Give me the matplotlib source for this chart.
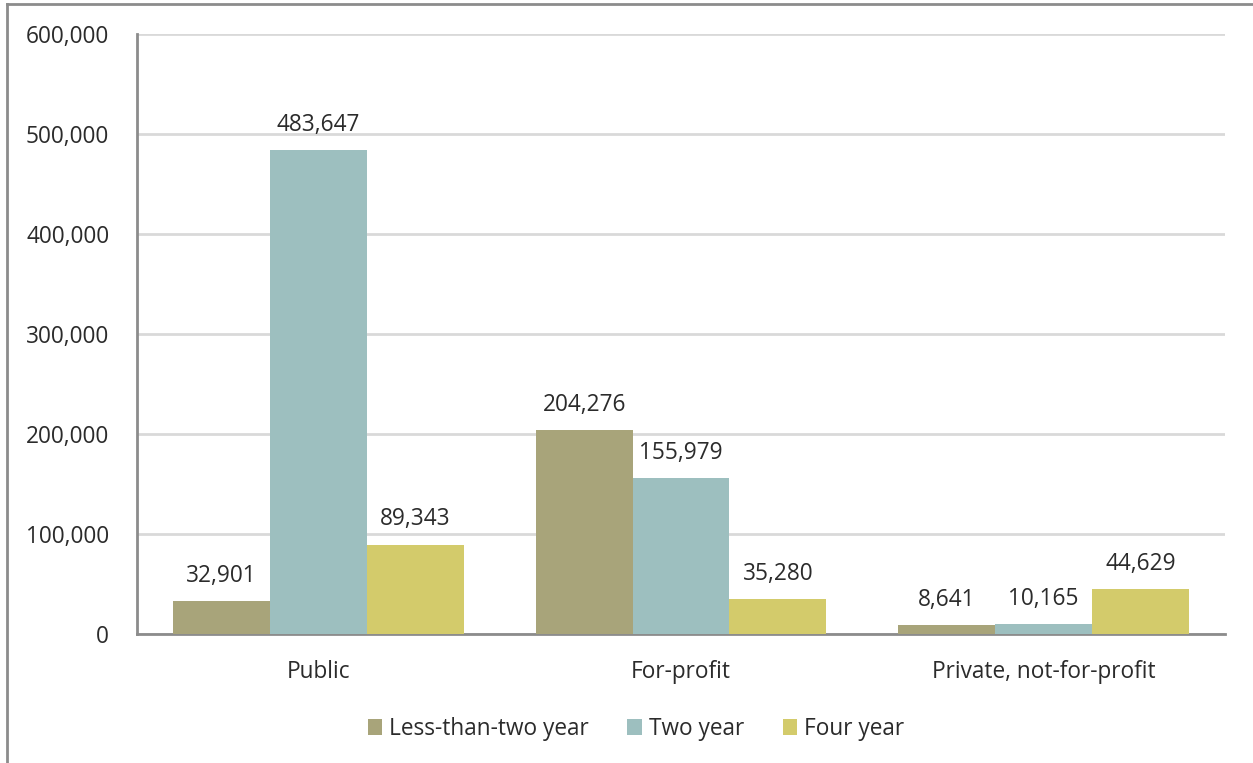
import matplotlib
matplotlib.use("Agg")
import matplotlib.pyplot as plt
from matplotlib.lines import Line2D
import numpy as np

categories = ["Public", "For-profit", "Private, not-for-profit"]
series_names = ["Less-than-two year", "Two year", "Four year"]
less_than_two = [32901, 204276, 8641]
two_year = [483647, 155979, 10165]
four_year = [89343, 35280, 44629]
colors = ["#A8A47A", "#9DBFBF", "#D3CB6B"]
yticks = [0, 100000, 200000, 300000, 400000, 500000, 600000]

plt.rcParams['font.family'] = ['Open Sans', 'DejaVu Sans']
FS = 16.3
TC = "#2B2B2B"

fig = plt.figure(figsize=(12.53, 7.63), dpi=100)
ax = fig.add_axes([137/1253, 1-634/763, 1088/1253, 600/763])

x = np.arange(len(categories))
w = 0.267
values = [less_than_two, two_year, four_year]
for i, (name, vals, c) in enumerate(zip(series_names, values, colors)):
    bars = ax.bar(x + (i-1)*w, vals, w, color=c, label=name, zorder=3)
    for b, v in zip(bars, vals):
        ax.annotate(f"{v:,}", (b.get_x()+b.get_width()/2, v), xytext=(0, 9.5),
                    textcoords="offset points", ha="center", va="bottom",
                    fontsize=FS, color=TC)

ax.set_xlim(-0.5, 2.5)
ax.set_ylim(0, 600000)
ax.set_yticks(yticks)
ax.set_yticklabels([f"{v:,}" for v in yticks], fontsize=FS, color=TC)
ax.set_xticks(x)
ax.set_xticklabels(categories, fontsize=FS, color=TC)
ax.tick_params(axis='x', length=0, pad=19)
ax.tick_params(axis='y', length=0, pad=20)
ax.grid(axis='y', color="#D9D9D9", linewidth=2, zorder=0)
for s in ["top", "right"]:
    ax.spines[s].set_visible(False)
for s in ["left", "bottom"]:
    ax.spines[s].set_color("#8C8C8C")
    ax.spines[s].set_linewidth(2)

ax.legend(loc="center", bbox_to_anchor=(636/1253, 1-729/763), bbox_transform=fig.transFigure,
          ncol=3, frameon=False, fontsize=FS, handlelength=0.65, handleheight=0.65,
          handletextpad=0.3, columnspacing=1.7, labelcolor=TC)

# outer frame
fig.add_artist(Line2D([7/1253, 1], [1-4/763, 1-4/763], transform=fig.transFigure, color="#8C8C8C", lw=2))
fig.add_artist(Line2D([7/1253, 7/1253], [0, 1-4/763], transform=fig.transFigure, color="#8C8C8C", lw=2))

fig.savefig("out.png", dpi=100)
